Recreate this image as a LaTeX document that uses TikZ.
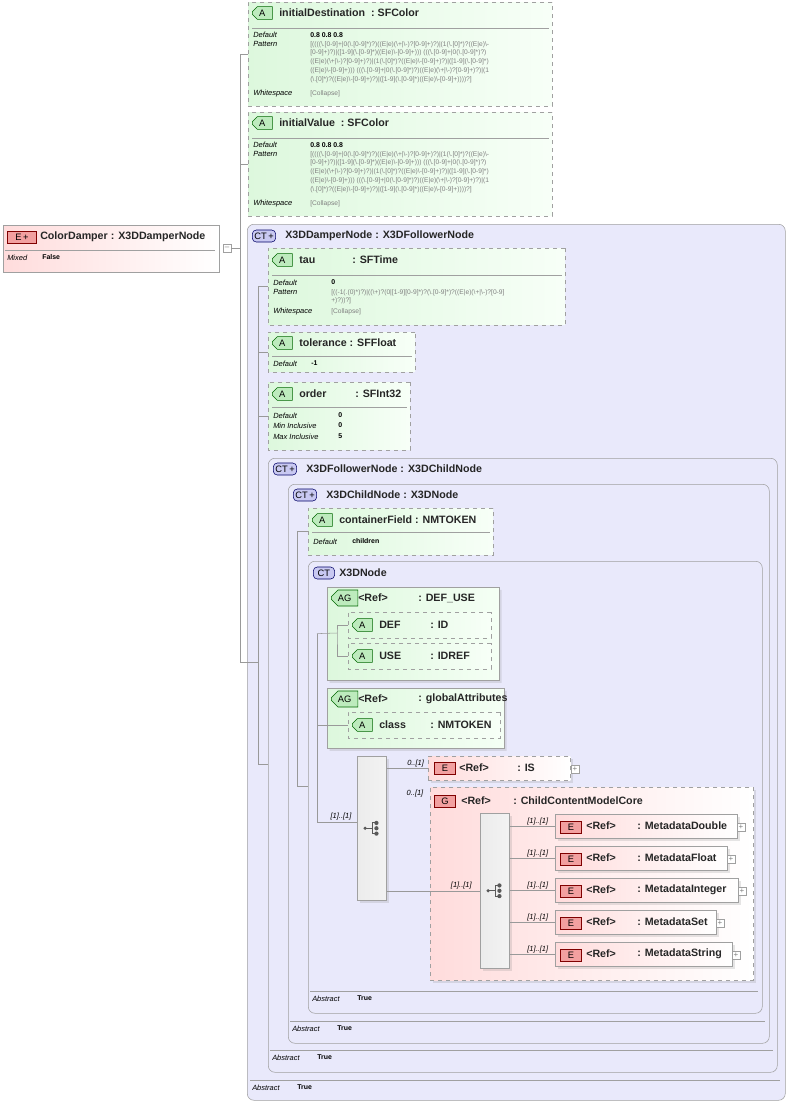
\documentclass[tikz,border=0pt]{standalone}
\usepackage{fontspec}
\setmainfont{Liberation Sans}
\usetikzlibrary{shapes.misc,shadows}
\definecolor{attrgreen}{HTML}{DDF8DD}
\definecolor{badgegreen}{HTML}{BDEBBD}
\definecolor{ctblue}{HTML}{E9E9FB}
\definecolor{ctbadge}{HTML}{C9C9F2}
\definecolor{elpink}{HTML}{FFDCDC}
\definecolor{elbadge}{HTML}{F2A0A0}
\definecolor{edge}{HTML}{A0A0A0}
\newcommand\bs{\textbackslash}
\newcommand\colpat{[((((\bs.[0-9]+|0(\bs.[0-9]*)?)((E|e)(\bs+|\bs-)?[0-9]+)?)|(1(\bs.[0]*)?((E|e)\bs-\\{}%
[0-9]+)?)|([1-9](\bs.[0-9]*)((E|e)\bs-[0-9]+))) (((\bs.[0-9]+|0(\bs.[0-9]*)?)\\{}%
((E|e)(\bs+|\bs-)?[0-9]+)?)|(1(\bs.[0]*)?((E|e)\bs-[0-9]+)?)|([1-9](\bs.[0-9]*)\\{}%
((E|e)\bs-[0-9]+))) (((\bs.[0-9]+|0(\bs.[0-9]*)?)((E|e)(\bs+|\bs-)?[0-9]+)?)|(1\\{}%
(\bs.[0]*)?((E|e)\bs-[0-9]+)?)|([1-9](\bs.[0-9]*)((E|e)\bs-[0-9]+))))?]}
\begin{document}
\begin{tikzpicture}[x=0.75pt, y=-0.75pt,
bx/.style 2 args={minimum width=#1*0.75pt, minimum height=#2*0.75pt, inner sep=0pt, anchor=north west},
attr/.style={chamfered rectangle, chamfered rectangle corners={north west,south west}, chamfered rectangle xsep=4pt, draw=edge, dashed, left color=attrgreen, right color=white!97!green},
group/.style={chamfered rectangle, chamfered rectangle corners={north west,south west}, chamfered rectangle xsep=5pt, draw=edge, left color=attrgreen, right color=white!96!green, drop shadow={opacity=0.2, shadow xshift=2pt, shadow yshift=-2pt}},
ct/.style={rounded corners=5pt, draw=edge, fill=ctblue},
elem/.style={draw=edge, left color=elpink, right color=white, drop shadow={opacity=0.2, shadow xshift=2pt, shadow yshift=-2pt}},
seq/.style={draw=edge, left color=gray!15, right color=white!90!gray, drop shadow={opacity=0.2, shadow xshift=2pt, shadow yshift=-2pt}},
badgeA/.style={chamfered rectangle, chamfered rectangle corners={north west,south west}, chamfered rectangle xsep=1.5pt, draw=green!40!black, fill=badgegreen, font=\fontsize{7}{7}\selectfont, minimum width=15pt, minimum height=9pt, inner sep=0pt, anchor=west},
badgeCT/.style={rounded corners=3pt, draw=blue!40!black, fill=ctbadge, font=\fontsize{7}{7}\selectfont, minimum height=9pt, inner sep=1.5pt, anchor=west},
badgeE/.style={draw=red!50!black, fill=elbadge, font=\fontsize{7}{7}\selectfont, minimum width=16pt, minimum height=9pt, inner sep=1pt, anchor=west},
ttl/.style={font=\fontsize{8}{8}\selectfont\bfseries, text=black!85, inner sep=0pt, anchor=west},
lbl/.style={font=\fontsize{5.6}{6}\selectfont\itshape, inner sep=0pt, anchor=west},
val/.style={font=\fontsize{5.2}{6}\selectfont\bfseries, inner sep=0pt, anchor=west},
pat/.style={font=\fontsize{5}{6.6}\selectfont, text=gray, inner sep=0pt, anchor=north west, align=left},
mult/.style={font=\fontsize{5.6}{6}\selectfont\itshape, inner sep=0pt, anchor=south},
pm/.style={draw=edge, fill=white, minimum size=6pt, inner sep=0pt, font=\fontsize{6}{6}\selectfont, text=gray},
conn/.style={draw=gray!80},
]
\useasboundingbox (0,0) rectangle (790,1104);

% Element ColorDamper
\node[draw=edge, left color=elpink, right color=white, bx={216}{47}] (damper) at (3,225) {};
\node[badgeE, minimum width=22pt] (damperE) at (7,237) {E\,+};
\node[ttl] at (40,237) {ColorDamper : X3DDamperNode};
\draw[edge] (5,250) -- (215,250);
\node[lbl] at (7,258) {Mixed};
\node[val] at (42,257) {False};
\node[pm] (damperPm) at (227,248) {--};

% Attributes initialDestination / initialValue
\node[attr, bx={304}{104}] (initDest) at (248,2) {};
\node[attr, bx={304}{104}] (initVal) at (248,112) {};
\foreach \nm/\yy in {initialDestination/0, initialValue/110}{
  \node[badgeA] at (252,13+\yy) {A};
  \node[ttl] at (279,13+\yy) {\nm\ \ :\ SFColor};
  \draw[edge] (252,28+\yy) -- (549,28+\yy);
  \node[lbl] at (253,35+\yy) {Default};
  \node[val] at (310,35+\yy) {0.8 0.8 0.8};
  \node[lbl] at (253,44+\yy) {Pattern};
  \node[pat] at (310,41+\yy) {\colpat};
  \node[lbl] at (253,94+\yy) {Whitespace};
  \node[pat, anchor=west] at (310,94+\yy) {[Collapse]};
}

% Complex type X3DDamperNode
\node[ct, bx={538}{876}] (damperCT) at (247,224) {};
\node[badgeCT] at (252,236) {CT\,+};
\node[ttl] at (285,236) {X3DDamperNode : X3DFollowerNode};
\draw[edge] (250,1080) -- (780,1080);
\node[lbl] at (252,1088) {Abstract};
\node[val] at (297,1087) {True};

\node[attr, bx={297}{77}] (tau) at (268,248) {};
\node[badgeA] at (272,260) {A};
\node[ttl] at (299,260) {tau};
\node[ttl] at (352,260) {: SFTime};
\draw[edge] (272,275) -- (562,275);
\node[lbl] at (273,283) {Default};
\node[val] at (331,282) {0};
\node[lbl] at (273,292) {Pattern};
\node[pat] at (331,289) {[((-1(.(0)*)?)|((\bs+)?(0|[1-9][0-9]*)?(\bs.[0-9]*)?((E|e)(\bs+|\bs-)?[0-9]\\{}+)?))?]};
\node[lbl] at (273,312) {Whitespace};
\node[pat, anchor=west] at (331,312) {[Collapse]};

\node[attr, bx={147}{40}] (tolerance) at (268,332) {};
\node[badgeA] at (272,343) {A};
\node[ttl] at (299,343) {tolerance : SFFloat};
\draw[edge] (272,356) -- (412,356);
\node[lbl] at (273,364) {Default};
\node[val] at (311,363) {-1};

\node[attr, bx={142}{68}] (order) at (268,382) {};
\node[badgeA] at (272,394) {A};
\node[ttl] at (299,394) {order};
\node[ttl] at (355,394) {: SFInt32};
\draw[edge] (272,407) -- (407,407);
\node[lbl] at (273,416) {Default};
\node[val] at (338,415) {0};
\node[lbl] at (273,426) {Min Inclusive};
\node[val] at (338,425) {0};
\node[lbl] at (273,437) {Max Inclusive};
\node[val] at (338,436) {5};

% Complex type X3DFollowerNode
\node[ct, bx={509}{614}] (followerCT) at (268,458) {};
\node[badgeCT] at (273,469) {CT\,+};
\node[ttl] at (306,469) {X3DFollowerNode : X3DChildNode};
\draw[edge] (270,1050) -- (773,1050);
\node[lbl] at (272,1058) {Abstract};
\node[val] at (317,1057) {True};

% Complex type X3DChildNode
\node[ct, bx={481}{559}] (childCT) at (288,484) {};
\node[badgeCT] at (293,495) {CT\,+};
\node[ttl] at (326,495) {X3DChildNode : X3DNode};
\draw[edge] (290,1021) -- (765,1021);
\node[lbl] at (292,1029) {Abstract};
\node[val] at (337,1028) {True};

\node[attr, bx={185}{47}] (container) at (308,508) {};
\node[badgeA] at (312,520) {A};
\node[ttl] at (339,520) {containerField : NMTOKEN};
\draw[edge] (312,532) -- (490,532);
\node[lbl] at (313,542) {Default};
\node[val] at (352,541) {children};

% Complex type X3DNode
\node[ct, bx={454}{452}] (nodeCT) at (308,561) {};
\node[badgeCT, minimum width=16pt] at (313,573) {CT};
\node[ttl] at (339,573) {X3DNode};
\draw[edge] (310,991) -- (758,991);
\node[lbl] at (312,999) {Abstract};
\node[val] at (357,998) {True};

% Attribute groups
\node[group, bx={172}{93}] (defuse) at (327,587) {};
\node[badgeA, minimum width=20pt] at (331,598) {AG};
\node[ttl] at (358,598) {<Ref>};
\node[ttl] at (418,598) {: DEF\_USE};
\node[attr, bx={143}{26}] (def) at (348,612) {};
\node[badgeA] at (352,625) {A};
\node[ttl] at (379,625) {DEF};
\node[ttl] at (430,625) {: ID};
\node[attr, bx={143}{26}] (use) at (348,643) {};
\node[badgeA] at (352,656) {A};
\node[ttl] at (379,656) {USE};
\node[ttl] at (430,656) {: IDREF};

\node[group, bx={177}{60}] (global) at (327,688) {};
\node[badgeA, minimum width=20pt] at (331,699) {AG};
\node[ttl] at (358,699) {<Ref>};
\node[ttl] at (418,699) {: globalAttributes};
\node[attr, bx={152}{26}] (cls) at (348,712) {};
\node[badgeA] at (352,725) {A};
\node[ttl] at (379,725) {class};
\node[ttl] at (430,725) {: NMTOKEN};

% Sequence and elements
\node[seq, bx={29}{144}] (seqA) at (357,756) {};
\node[elem, dashed, bx={142}{24}] (is) at (428,756) {};
\node[badgeE] at (434,768) {E};
\node[ttl] at (459,768) {<Ref>};
\node[ttl] at (517,768) {: IS};
\node[pm] at (575,769) {+};

\node[elem, dashed, bx={323}{193}] (core) at (430,787) {};
\node[badgeE] at (434,801) {G};
\node[ttl] at (461,801) {<Ref>};
\node[ttl] at (513,801) {: ChildContentModelCore};
\node[seq, bx={29}{155}] (seqB) at (480,813) {};

\foreach \nm/\w/\yy/\id in {MetadataDouble/182/814/mdA, MetadataFloat/172/846/mdB, MetadataInteger/183/878/mdC, MetadataSet/161/910/mdD, MetadataString/177/942/mdE}{
  \node[elem, bx={\w}{24}] (\id) at (555,\yy) {};
  \node[badgeE] at (560,\yy+13) {E};
  \node[ttl] at (586,\yy+12) {<Ref>};
  \node[ttl] at (637,\yy+12) {: \nm};
  \node[pm] at (559+\w,\yy+13) {+};
  \draw[conn] (seqB.east |- \id.west) -- (\id.west) node[mult, pos=0.62, yshift=1pt] {[1]..[1]};
}

% Sequence icons
\foreach \c in {seqA, seqB}{
  \fill[gray!70!black] ([xshift=-5pt]\c.center) circle (1.3pt);
  \draw[gray!70!black, thick] ([xshift=-5pt]\c.center) -- ([xshift=0.5pt]\c.center);
  \draw[gray!70!black, thick] ([xshift=0.5pt, yshift=4pt]\c.center) -- ([xshift=0.5pt, yshift=-4pt]\c.center);
  \foreach \dy in {-4,0,4}
    \fill[gray!70!black] ([xshift=3.5pt, yshift=\dy pt]\c.center) circle (1.6pt);
  \foreach \dy in {-4,4}
    \draw[gray!70!black, thick] ([xshift=0.5pt, yshift=\dy pt]\c.center) -- ([xshift=3pt, yshift=\dy pt]\c.center);
}

% Connectors
\coordinate (trA) at (240,662);
\coordinate (trB) at (258,764);
\coordinate (trC) at (297,786);
\coordinate (trD) at (317,822);
\coordinate (jDef) at (337,633);
\draw[conn] (damperPm.east) -- (damperPm.east -| trA);
\draw[conn] (initDest.west) -| (trA) -- (trA -| trB);
\draw[conn] (initVal.west) -| (trA);
\draw[conn] (tau.west) -| (trB) -- (trB -| followerCT.west);
\draw[conn] (tolerance.west) -| (trB);
\draw[conn] (order.west) -| (trB);
\draw[conn] (container.west) -| (trC) -- (trC -| nodeCT.west);
\draw[conn] (defuse.west -| trD) -- (jDef);
\draw[conn] (def.west) -| (jDef) |- (use.west);
\draw[conn] (defuse.west -| trD) -- (trD);
\draw[conn] (cls.west -| trD) -- (cls.west);
\draw[conn] (trD) -- (trD -| seqA.west) node[mult, pos=0.6, yshift=1pt] {[1]..[1]};
\draw[conn] (seqA.east |- is.west) -- (is.west) node[mult, pos=0.7, yshift=1pt] {0..[1]};
\node[mult] at (415,797) {0..[1]};
\draw[conn] (seqA.east |- seqB.west) -- (seqB.west) node[mult, pos=0.8, yshift=1pt] {[1]..[1]};
\end{tikzpicture}
\end{document}
